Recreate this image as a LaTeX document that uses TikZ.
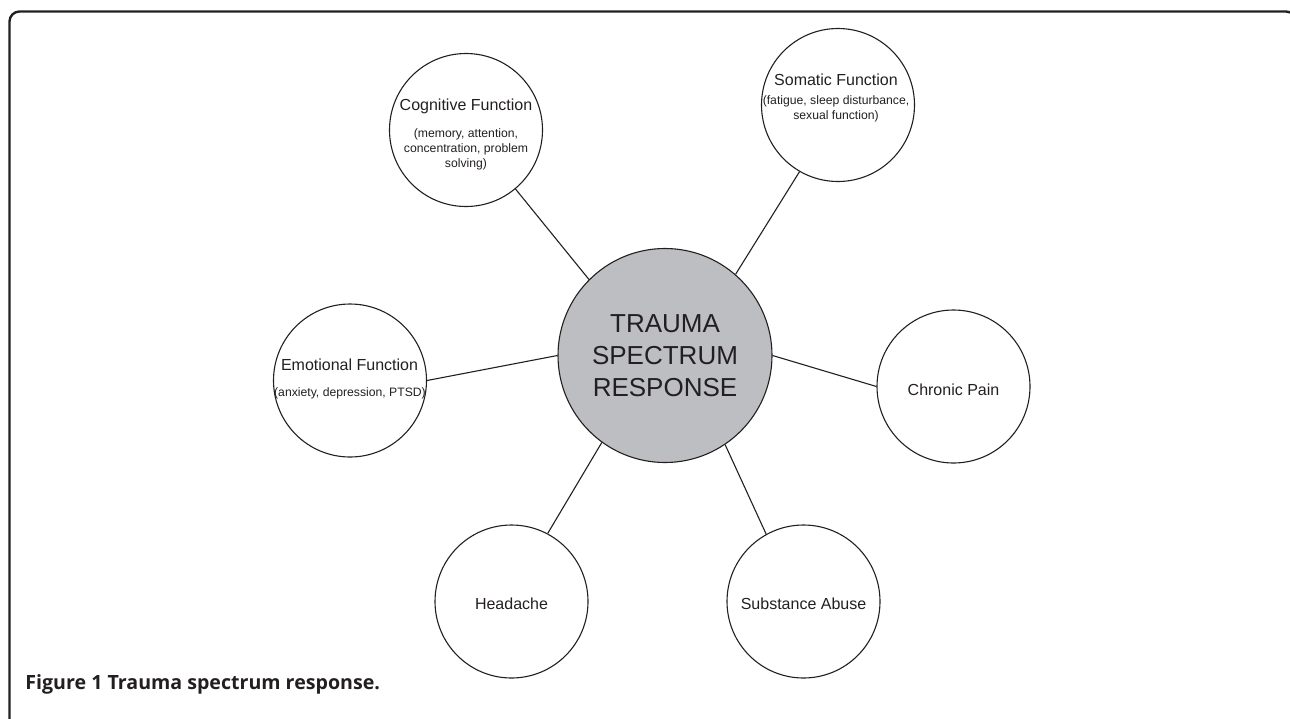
\documentclass[tikz,border=0pt]{standalone}
\usepackage{fontspec}
\setmainfont{Liberation Sans}
\newfontfamily\capfont{Open Sans}
\usetikzlibrary{positioning}
\definecolor{hubgray}{RGB}{188,190,193}
\definecolor{ink}{RGB}{35,31,32}

\begin{document}
\begin{tikzpicture}
  [
    x=0.5pt, y=-0.5pt,
    bubble/.style={circle, draw=ink, line width=0.55pt, minimum size=76.5pt, inner sep=0pt},
    hub/.style={bubble, fill=hubgray, minimum size=107pt},
    head/.style={anchor=base, inner sep=0pt, text=ink, font=\fontsize{8}{9.6}\selectfont},
    note/.style={anchor=base, inner sep=0pt, align=center, text=ink, font=\fontsize{6.1}{7.4}\selectfont},
    link/.style={draw=ink, line width=0.55pt}
  ]
  \useasboundingbox (0,0) rectangle (1290,718);
  % frame
  \begin{scope}
    \clip (0,0) rectangle (1290,718);
    \draw[ink, line width=1.2pt, rounded corners=5pt] (9.5,740) -- (9.5,11.5) -- (1296,11.5) -- (1296,740);
  \end{scope}
  % bubbles
  \node[hub] (hub) at (665,355.5) {};
  \node[bubble] (cog) at (466,130) {};
  \node[bubble] (som) at (838,105) {};
  \node[bubble] (emo) at (350,380.5) {};
  \node[bubble] (pain) at (953.5,386.5) {};
  \node[bubble] (head) at (511.5,601.5) {};
  \node[bubble] (abuse) at (803.5,601.5) {};
  % links
  \foreach \a/\b/\c in {cog/310.8/135.9, som/240.2/49, emo/0/180,
                        pain/180/0, head/62.9/234.6, abuse/119.4/304.1} {
      \draw[link] (\a.\b) -- (hub.\c);
  }
  % texts (note base = last line)
  \node[inner sep=0pt, align=center, text=ink, font=\fontsize{13}{16}\selectfont] (hubt) at (hub) {TRAUMA\\SPECTRUM\\RESPONSE};
  \node[head] (cogt) at (466,110.7) {Cognitive Function};
  \node[note] (cogn) at (466,167) {(memory, attention,\\concentration, problem\\solving)};
  \node[head] (somt) at (836,85.7) {Somatic Function};
  \node[note] (somn) at (836,119.5) {(fatigue, sleep disturbance,\\sexual function)};
  \node[head] (emot) at (349.5,370) {Emotional Function};
  \node[note] (emon) at (350,396) {(anxiety, depression, PTSD)};
  \node[head] (paint) at (953.5,395) {Chronic Pain};
  \node[head] (headt) at (511.5,609.3) {Headache};
  \node[head] (abuset) at (803.5,609.3) {Substance Abuse};
  % caption
  \node[anchor=base west, inner sep=0pt, text=ink, font=\capfont\bfseries\fontsize{9.8}{12}\selectfont] (cap) at (25,689) {Figure 1 Trauma spectrum response.};
\end{tikzpicture}
\end{document}
